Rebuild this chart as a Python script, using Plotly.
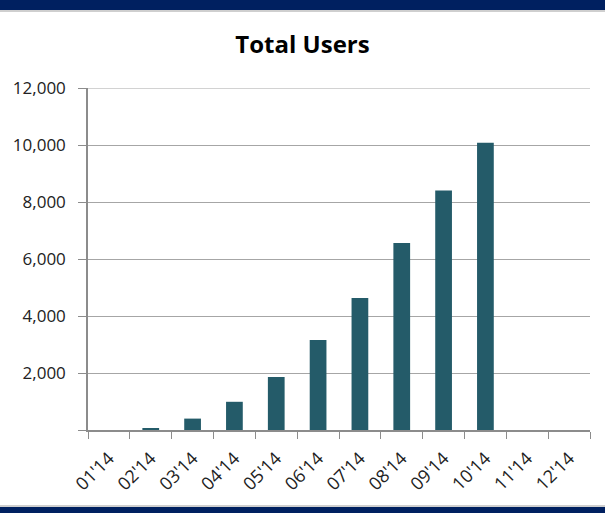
import plotly.graph_objects as go

# data
months = ["01'14", "02'14", "03'14", "04'14", "05'14", "06'14",
          "07'14", "08'14", "09'14", "10'14", "11'14", "12'14"]
total_users = [0, 70, 400, 990, 1860, 3160, 4630, 6560, 8400, 10080, None, None]

y_ticks = [0, 2000, 4000, 6000, 8000, 10000, 12000]
y_tick_text = ["", "2,000", "4,000", "6,000", "8,000", "10,000", "12,000"]

BAR = "#245b69"
NAVY = "#002060"
GRID = "#a6a6a6"
AXIS = "#8c8c8c"
FONT = "Open Sans, Liberation Sans, sans-serif"

W, H = 605, 513
M = dict(l=88, r=15, t=88, b=83)
plot_h = H - M["t"] - M["b"]


def page_y(px):
    """page pixel (from top) -> paper y coordinate"""
    return 1 + (M["t"] - px) / plot_h


fig = go.Figure()
fig.add_trace(go.Bar(x=months, y=total_users, marker=dict(color=BAR, line_width=0),
                     hoverinfo="skip"))

# navy bands top and bottom, with thin grey rules; top gridline drawn by hand
shapes = [
    dict(type="line", xref="paper", yref="y", x0=0, x1=1, y0=y_ticks[-1], y1=y_ticks[-1],
         line=dict(color=GRID, width=1.2), layer="below"),
    dict(type="rect", xref="paper", yref="paper", x0=-1, x1=2, y0=page_y(10), y1=page_y(-20),
         fillcolor=NAVY, line_width=0, layer="above"),
    dict(type="line", xref="paper", yref="paper", x0=-1, x1=2, y0=page_y(11), y1=page_y(11),
         line=dict(color="#bfbfbf", width=1.5)),
    dict(type="rect", xref="paper", yref="paper", x0=-1, x1=2, y0=page_y(530), y1=page_y(507),
         fillcolor=NAVY, line_width=0, layer="above"),
    dict(type="line", xref="paper", yref="paper", x0=-1, x1=2, y0=page_y(506), y1=page_y(506),
         line=dict(color="#bfbfbf", width=1.5)),
]

fig.update_layout(
    width=W, height=H,
    margin=dict(**M, autoexpand=False),
    paper_bgcolor="white",
    plot_bgcolor="white",
    bargap=0.6,
    showlegend=False,
    shapes=shapes,
    font=dict(family=FONT, size=17, color="#222222"),
    title=dict(text="<b>Total Users</b>", x=0.5, xref="container", xanchor="center",
               y=1 - 45 / H, yref="container", yanchor="middle",
               font=dict(family=FONT, size=24, color="black"), automargin=False),
)
fig.update_xaxes(
    type="category",
    tickangle=-45,
    showgrid=False,
    automargin=False,
    showline=True, linecolor=AXIS, linewidth=1.5,
    ticks="outside", tickson="boundaries", ticklen=7, tickcolor=AXIS,
    ticklabelstandoff=9,
    tickfont=dict(size=18, color="#222222"),
)
fig.update_yaxes(
    range=[0, 12000],
    tickvals=y_ticks, ticktext=y_tick_text,
    automargin=False,
    showgrid=True, gridcolor=GRID, gridwidth=1.2,
    zeroline=False,
    showline=True, linecolor=AXIS, linewidth=1.5,
    ticks="outside", ticklen=8, tickcolor=AXIS,
    ticklabelstandoff=9,
    tickfont=dict(size=17, color="#222222"),
)

# drop the browser's default 8px body margin so the figure sits at the page corner
fig.write_html("out.html", config={"displayModeBar": False},
               post_script="document.body.style.margin='0';")
